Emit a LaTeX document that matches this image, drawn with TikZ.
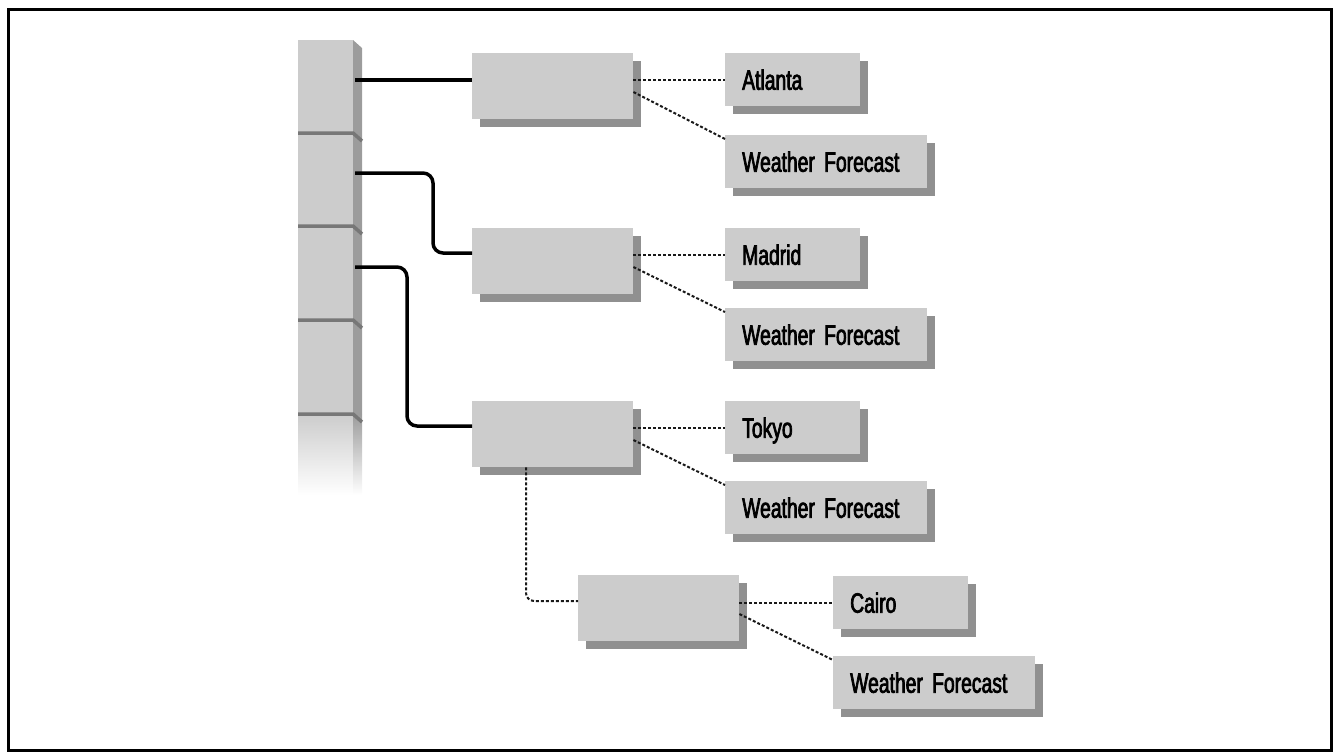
\documentclass[tikz,border=0pt]{standalone}
\usepackage{fontspec}
\newfontfamily\labfont[FakeStretch=0.69,FakeBold=2.5]{Liberation Sans}
\usetikzlibrary{calc,shadows}
\definecolor{boxgray}{HTML}{CCCCCC}
\definecolor{sidegray}{HTML}{9C9C9C}
\definecolor{shadowgray}{HTML}{909090}
\definecolor{linegray}{HTML}{777777}
\begin{document}
\begin{tikzpicture}[x=1pt,y=-1pt,
  boxbase/.style={anchor=north west, fill=boxgray, draw=none, inner sep=0pt,
     drop shadow={shadow xshift=8pt, shadow yshift=-8pt, fill=shadowgray, opacity=1}},
  midbox/.style={boxbase, minimum width=161pt, minimum height=66pt},
  citybox/.style={boxbase, minimum width=135pt, minimum height=53pt, text width=101pt,
     align=left, inner xsep=17pt, font=\labfont\fontsize{28}{30}\selectfont,
     text height=20pt, text depth=0pt},
  wfbox/.style={citybox, minimum width=202pt, text width=168pt},
  mainlink/.style={line width=3.5pt, black, rounded corners=10pt},
  dotlink/.style={line width=2pt, black!90, dash pattern=on 3pt off 2pt, rounded corners=8pt},
  divline/.style={line width=3.5pt, linegray}]
\useasboundingbox (0,0) rectangle (1334,753);
\draw[line width=3pt] (8,9) rectangle (1331,750);

% column
\fill[boxgray] (298,40) rectangle (353,414);
\fill[sidegray] (353,40) -- (362,48) -- (362,414) -- (353,414) -- cycle;
\shade[top color=boxgray, bottom color=white] (298,414) rectangle (353,495);
\shade[top color=sidegray, bottom color=white] (353,414) rectangle (362,495);
\foreach \yy in {133,226,320,414}{
  \draw[divline] (298,\yy) -- (353,\yy) -- (362,\yy+8);
}

% middle boxes
\node[midbox] (b1) at (472,53) {};
\node[midbox] (b2) at (472,228) {};
\node[midbox] (b3) at (472,401) {};
\node[midbox] (b4) at (578,575) {};

% label boxes
\node[citybox] (c1) at (725,53) {Atlanta};
\node[wfbox] (w1) at (725,135) {Weather Forecast};
\node[citybox] (c2) at (725,228) {Madrid};
\node[wfbox] (w2) at (725,308) {Weather Forecast};
\node[citybox] (c3) at (725,401) {Tokyo};
\node[wfbox] (w3) at (725,481) {Weather Forecast};
\node[citybox] (c4) at (833,576) {Cairo};
\node[wfbox] (w4) at (833,656) {Weather Forecast};

% solid links from column
\coordinate (s1) at (355,80);
\coordinate (s2) at (355,173);
\coordinate (s3) at (355,267);
\draw[mainlink] (s1) -- (s1 -| b1.west);
\draw[mainlink] (s2) -- (433,173) |- ($(b2.north west)+(0,25)$);
\draw[mainlink] (s3) -- (407,267) |- ($(b3.north west)+(0,25)$);

% dotted links
\foreach \m/\c/\w in {b1/c1/w1,b2/c2/w2,b3/c3/w3,b4/c4/w4}{
  \draw[dotlink] (\c.west -| \m.east) -- (\c.west);
  \draw[dotlink] ($(\m.north east)+(0,39)$) -- ($(\w.north west)+(0,4)$);
}
\draw[dotlink] ($(b3.south west)+(54,0)$) |- ($(b4.north west)+(0,26)$);
\end{tikzpicture}
\end{document}
